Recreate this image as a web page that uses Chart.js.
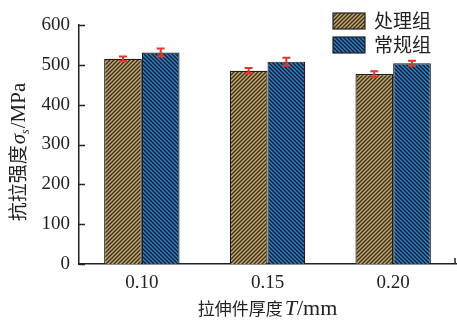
<!DOCTYPE html>
<html>
<head>
<meta charset="utf-8">
<script src="https://cdn.jsdelivr.net/npm/chart.js@4.4.1/dist/chart.umd.min.js"></script>
<style>
html,body{margin:0;padding:0;background:#fff;}
#wrap{width:457px;height:320px;position:relative;}
</style>
</head>
<body>
<div id="wrap"><canvas id="c" width="457" height="320"></canvas></div>
<script>
const categories = ['0.10', '0.15', '0.20'];
const treated = [515, 485, 477];
const treatedErr = [6, 7, 7];
const conventional = [531, 508, 504];
const conventionalErr = [10, 10, 6];
const seriesNames = ['处理组', '常规组'];
const yMin = 0, yMax = 600, yStep = 100;

const SERIF = '"Liberation Serif", "DejaVu Serif", serif';
const CJK = '"Noto Sans CJK SC", "Noto Sans", sans-serif';

function makePattern(base, line, dir) {
  const s = 4;
  const c = document.createElement('canvas');
  c.width = s; c.height = s;
  const g = c.getContext('2d');
  g.fillStyle = base; g.fillRect(0, 0, s, s);
  g.strokeStyle = line; g.lineWidth = 1.4;
  g.beginPath();
  if (dir > 0) {
    g.moveTo(-1, s + 1); g.lineTo(s + 1, -1);
    g.moveTo(-1, 1); g.lineTo(1, -1);
    g.moveTo(s - 1, s + 1); g.lineTo(s + 1, s - 1);
  } else {
    g.moveTo(-1, -1); g.lineTo(s + 1, s + 1);
    g.moveTo(s - 1, -1); g.lineTo(s + 1, 1);
    g.moveTo(-1, s - 1); g.lineTo(1, s + 1);
  }
  g.stroke();
  return document.getElementById('c').getContext('2d').createPattern(c, 'repeat');
}
const brownPat = makePattern('#3f321d', '#c4aa72', 1);
const bluePat = makePattern('#0b1a33', '#2f86c8', -1);

const errPlugin = {
  id: 'errs',
  afterDatasetsDraw(chart) {
    const ctx = chart.ctx;
    const y = chart.scales.y;
    const errs = [treatedErr, conventionalErr];
    ctx.save();
    ctx.strokeStyle = '#e8342e';
    ctx.lineWidth = 2;
    chart.data.datasets.forEach((ds, di) => {
      const meta = chart.getDatasetMeta(di);
      meta.data.forEach((bar, i) => {
        const v = ds.data[i], e = errs[di][i];
        const x = bar.x;
        const yt = y.getPixelForValue(v + e), yb = y.getPixelForValue(v - e);
        ctx.beginPath();
        ctx.moveTo(x, yt); ctx.lineTo(x, yb);
        ctx.moveTo(x - 4, yt); ctx.lineTo(x + 4, yt);
        ctx.moveTo(x - 4, yb); ctx.lineTo(x + 4, yb);
        ctx.stroke();
      });
    });
    ctx.restore();
  }
};

const decoPlugin = {
  id: 'deco',
  afterDraw(chart) {
    const ctx = chart.ctx;
    const y = chart.scales.y;
    const a = chart.chartArea;
    ctx.save();
    ctx.strokeStyle = '#222';
    ctx.lineWidth = 1.5;
    for (let v = yMin; v <= yMax; v += yStep) {
      const py = Math.round(y.getPixelForValue(v)) + 0.5;
      ctx.beginPath(); ctx.moveTo(a.left, py); ctx.lineTo(a.left + 6, py); ctx.stroke();
    }
    ctx.beginPath(); ctx.moveTo(a.right - 1, a.bottom); ctx.lineTo(a.right - 1, a.bottom - 6); ctx.stroke();

    // legend
    const pats = [brownPat, bluePat];
    ctx.textBaseline = 'middle';
    ctx.textAlign = 'left';
    seriesNames.forEach((n, i) => {
      const by = 13 + i * 24;
      ctx.fillStyle = pats[i];
      ctx.fillRect(333, by, 32, 16);
      ctx.strokeStyle = '#222'; ctx.lineWidth = 1.2;
      ctx.strokeRect(333, by, 32, 16);
      ctx.fillStyle = '#222';
      ctx.font = '19px ' + CJK;
      ctx.fillText(n, 374, by + 8);
    });

    // x title
    const xParts = [['拉伸件厚度', '17px ' + CJK, 2], ['T', 'italic 22px ' + SERIF, 0], ['/mm', '22px ' + SERIF, 0]];
    let tw = 0;
    xParts.forEach(p => { ctx.font = p[1]; tw += ctx.measureText(p[0]).width + p[2]; });
    let cx = (a.left + a.right) / 2 - tw / 2;
    ctx.textBaseline = 'alphabetic';
    xParts.forEach(p => { ctx.font = p[1]; ctx.fillText(p[0], cx, 315); cx += ctx.measureText(p[0]).width + p[2]; });

    // y title
    ctx.save();
    ctx.translate(25, 152);
    ctx.rotate(-Math.PI / 2);
    const yParts = [['抗拉强度', '19px ' + CJK, 0, 1], ['σ', 'italic 21px ' + SERIF, 0, 0], ['s', 'italic 12px ' + SERIF, 4, 1], ['/MPa', '21px ' + SERIF, 0, 0]];
    tw = 0;
    yParts.forEach(p => { ctx.font = p[1]; tw += ctx.measureText(p[0]).width + p[3]; });
    cx = -tw / 2;
    yParts.forEach(p => { ctx.font = p[1]; ctx.fillText(p[0], cx, p[2]); cx += ctx.measureText(p[0]).width + p[3]; });
    ctx.restore();
    ctx.restore();
  }
};

new Chart(document.getElementById('c'), {
  type: 'bar',
  data: {
    labels: categories,
    datasets: [
      { label: seriesNames[0], data: treated, backgroundColor: brownPat, borderColor: '#1e1e1e', borderWidth: 1.2, categoryPercentage: 0.6, barPercentage: 1.0 },
      { label: seriesNames[1], data: conventional, backgroundColor: bluePat, borderColor: '#1e1e1e', borderWidth: 1.2, categoryPercentage: 0.6, barPercentage: 1.0 }
    ]
  },
  options: {
    responsive: false,
    animation: false,
    layout: { padding: { top: 25, right: 1, left: 0, bottom: 0 } },
    plugins: { legend: { display: false }, tooltip: { enabled: false } },
    scales: {
      x: {
        grid: { display: false },
        border: { display: true, color: '#222', width: 1.5 },
        ticks: { color: '#222', font: { family: SERIF, size: 19 }, padding: 0 },
        afterFit(s) { s.height = 56; }
      },
      y: {
        min: yMin, max: yMax,
        grid: { display: false },
        border: { display: true, color: '#222', width: 1.5 },
        ticks: { stepSize: yStep, color: '#222', font: { family: SERIF, size: 19 }, padding: 1 },
        afterFit(s) { s.width = 79; }
      }
    }
  },
  plugins: [errPlugin, decoPlugin]
});
</script>
</body>
</html>
